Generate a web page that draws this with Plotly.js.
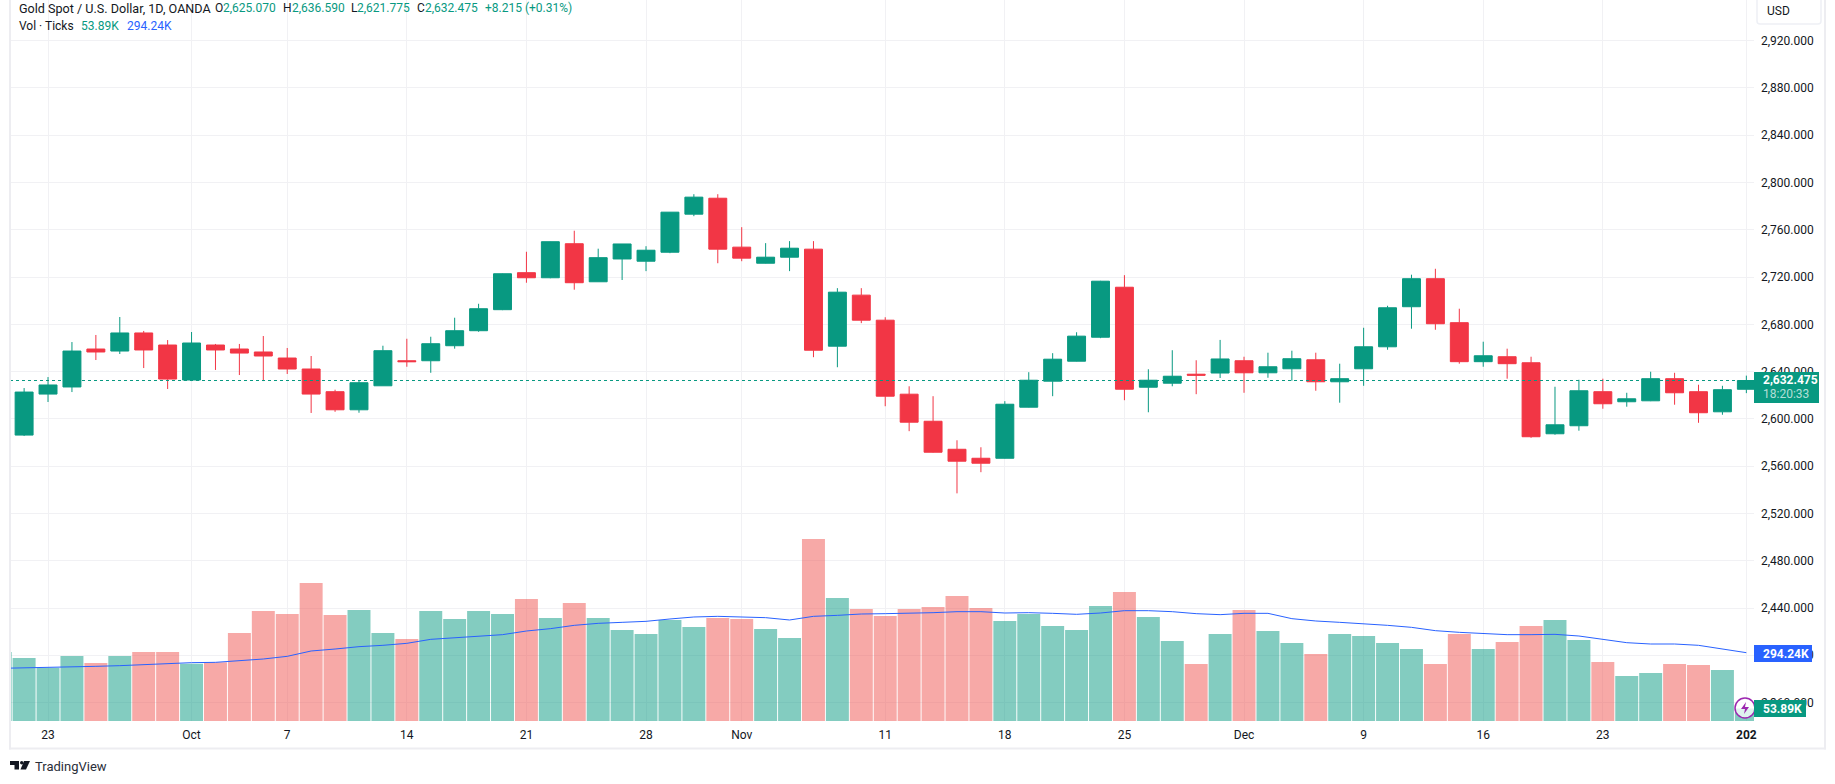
<!DOCTYPE html>
<html>
<head>
<meta charset="utf-8">
<title>Gold Spot / U.S. Dollar</title>
<script src="https://cdn.plot.ly/plotly-3.0.1.min.js"></script>
<style>
    html, body { margin: 0; padding: 0; background: #ffffff; overflow: hidden; }
</style>
</head>
<body>
<div id="chart" style="width:1835px;height:784px;"></div>
<script>
// Trading days shown on the chart (first one only shows its volume bar)
const days = [
    '09-19', '09-20',
    '09-23', '09-24', '09-25', '09-26', '09-27',
    '09-30', '10-01', '10-02', '10-03', '10-04',
    '10-07', '10-08', '10-09', '10-10', '10-11',
    '10-14', '10-15', '10-16', '10-17', '10-18',
    '10-21', '10-22', '10-23', '10-24', '10-25',
    '10-28', '10-29', '10-30', '10-31', '11-01',
    '11-04', '11-05', '11-06', '11-07', '11-08',
    '11-11', '11-12', '11-13', '11-14', '11-15',
    '11-18', '11-19', '11-20', '11-21', '11-22',
    '11-25', '11-26', '11-27', '11-28', '11-29',
    '12-02', '12-03', '12-04', '12-05', '12-06',
    '12-09', '12-10', '12-11', '12-12', '12-13',
    '12-16', '12-17', '12-18', '12-19', '12-20',
    '12-23', '12-24', '12-26', '12-27',
    '12-30', '12-31', '01-01'
];

// Candles, from 09-20 on
const open = [
    2586.3, 2621.0, 2627.0, 2659.1, 2657.4, 2672.7, 2662.5, 2632.9, 2662.5, 2659.1,
    2656.6, 2651.5, 2642.2, 2623.0, 2607.7, 2628.0, 2649.2, 2649.2, 2661.9, 2674.6,
    2692.4, 2723.7, 2719.4, 2748.2, 2716.0, 2735.3, 2733.4, 2741.0, 2773.2, 2786.7,
    2745.3, 2731.7, 2736.8, 2743.6, 2661.5, 2704.7, 2683.5, 2620.9, 2598.0, 2574.3,
    2566.7, 2566.7, 2609.9, 2631.9, 2648.8, 2669.1, 2711.4, 2626.8, 2630.2, 2637.8,
    2638.8, 2649.2, 2639.0, 2642.4, 2650.0, 2631.4, 2642.4, 2661.0, 2694.9, 2718.6,
    2681.4, 2648.4, 2652.6, 2647.5, 2587.4, 2594.2, 2623.0, 2614.5, 2615.3, 2634.0,
    2623.0, 2606.0, 2625.07
];
const high = [
    2626.1, 2635.4, 2665.0, 2671.0, 2686.2, 2674.4, 2666.7, 2673.5, 2663.4, 2663.4,
    2670.1, 2660.0, 2653.2, 2624.7, 2632.3, 2661.9, 2667.8, 2669.5, 2685.6, 2697.4,
    2723.0, 2741.4, 2750.0, 2759.2, 2744.0, 2748.0, 2746.1, 2775.0, 2790.1, 2790.1,
    2762.2, 2748.7, 2750.4, 2750.4, 2710.6, 2710.6, 2686.0, 2627.6, 2619.2, 2581.9,
    2576.0, 2615.0, 2639.5, 2655.6, 2673.3, 2716.8, 2721.6, 2642.0, 2658.1, 2649.6,
    2666.8, 2652.6, 2656.0, 2657.7, 2656.0, 2646.7, 2677.1, 2695.7, 2722.0, 2727.0,
    2693.2, 2665.3, 2659.4, 2652.6, 2627.2, 2633.1, 2634.0, 2622.1, 2639.9, 2639.0,
    2628.9, 2628.0, 2636.59
];
const low = [
    2585.5, 2614.3, 2622.7, 2649.8, 2654.9, 2643.0, 2625.3, 2632.0, 2641.4, 2637.1,
    2632.0, 2638.0, 2605.0, 2606.0, 2605.2, 2628.0, 2644.1, 2639.0, 2659.4, 2673.7,
    2692.0, 2715.2, 2719.0, 2709.3, 2716.0, 2717.5, 2725.0, 2740.2, 2771.5, 2731.7,
    2733.4, 2731.5, 2725.0, 2652.2, 2643.7, 2681.0, 2610.7, 2589.6, 2571.5, 2537.0,
    2554.9, 2566.5, 2609.7, 2619.2, 2648.6, 2668.3, 2615.8, 2605.6, 2627.6, 2620.9,
    2634.6, 2622.1, 2634.8, 2632.3, 2623.8, 2613.7, 2628.0, 2658.5, 2676.3, 2675.4,
    2646.7, 2644.1, 2634.0, 2584.0, 2586.6, 2590.0, 2608.6, 2610.3, 2615.0, 2612.0,
    2596.7, 2603.5, 2621.775
];
const close = [
    2622.7, 2628.7, 2657.4, 2656.6, 2672.7, 2658.3, 2633.7, 2664.2, 2658.3, 2655.7,
    2653.2, 2642.2, 2621.0, 2607.7, 2630.6, 2657.7, 2648.4, 2663.6, 2674.6, 2693.2,
    2722.8, 2719.4, 2749.9, 2715.2, 2736.4, 2748.0, 2742.7, 2774.9, 2787.6, 2743.6,
    2736.0, 2736.8, 2744.4, 2658.1, 2707.2, 2683.5, 2619.2, 2597.2, 2571.8, 2564.2,
    2562.5, 2612.4, 2632.7, 2650.5, 2670.0, 2716.5, 2625.1, 2632.7, 2636.1, 2637.0,
    2650.7, 2639.0, 2644.1, 2650.9, 2631.4, 2634.0, 2661.0, 2694.0, 2718.6, 2680.5,
    2648.4, 2653.4, 2646.7, 2584.9, 2595.0, 2623.8, 2612.8, 2617.0, 2634.0, 2622.1,
    2605.2, 2624.7, 2632.475
];

// Volume (ticks, thousands) and its moving average
const volume = [
    297.1, 271.3, 229.7, 279.9, 249.8, 279.9, 297.1, 297.1, 246.9, 252.6,
    379.0, 473.7, 460.8, 594.3, 456.5, 478.0, 379.0, 353.1, 473.7, 439.3,
    473.7, 460.8, 525.4, 443.6, 508.2, 443.6, 391.9, 374.7, 435.0, 404.8,
    443.6, 439.3, 396.2, 357.4, 783.8, 529.7, 482.3, 452.2, 482.3, 490.9,
    538.3, 486.6, 430.7, 460.8, 409.1, 391.9, 495.2, 555.5, 447.9, 344.5,
    245.5, 374.7, 478.0, 387.6, 335.9, 288.5, 374.7, 366.1, 335.9, 310.1,
    245.5, 374.7, 310.1, 340.2, 409.1, 435.0, 348.8, 254.1, 193.8, 206.7,
    245.5, 241.2, 219.6, 53.89
];
const volumeMA = [
    226.8, 228.2, 229.7, 232.6, 235.4, 238.3, 242.6, 249.8, 251.2, 252.6,
    258.4, 267.0, 278.5, 301.5, 310.0, 320.1, 325.9, 334.5, 351.7, 358.9,
    364.6, 371.8, 387.6, 397.6, 412.0, 420.6, 424.9, 429.2, 439.3, 447.9,
    450.7, 449.3, 445.0, 435.0, 450.7, 455.0, 460.8, 462.2, 463.7, 466.5,
    470.8, 470.8, 465.1, 466.5, 463.7, 459.4, 465.1, 475.1, 475.1, 470.8,
    462.2, 457.9, 463.7, 463.7, 440.7, 430.7, 424.9, 419.2, 412.0, 403.4,
    389.0, 381.8, 376.1, 371.8, 371.8, 373.2, 366.0, 351.7, 337.3, 331.6,
    331.6, 325.9, 311.5, 294.24
];

const tickDays = ['09-23', '10-01', '10-07', '10-14', '10-21', '10-28', '11-01', '11-11', '11-18', '11-25', '12-02', '12-09', '12-16', '12-23', '01-01'];
const tickLabels = ['23', 'Oct', '7', '14', '21', '28', 'Nov', '11', '18', '25', 'Dec', '9', '16', '23', '<b>202</b>'];

const GREEN = '#089981';
const RED = '#F23645';
const BLUE = '#2962FF';
const PURPLE = '#9C27B0';
const INK = '#131722';
const GRID = '#f1f1f4';
const FRAME = '#ededf1';
const FONT = 'Roboto, sans-serif';

// Plot area in page pixels
const PLOT_LEFT = 10;
const PLOT_RIGHT = 1754;
const PLOT_BOTTOM = 721;

const paperX = px => (px - PLOT_LEFT) / (PLOT_RIGHT - PLOT_LEFT);
const paperY = py => 1 - py / PLOT_BOTTOM;

// Text placed by page pixels, left aligned
function label(text, x, y, color, size) {
    return {
        text: text, x: paperX(x), y: paperY(y), xref: 'paper', yref: 'paper',
        xanchor: 'left', yanchor: 'middle', showarrow: false, align: 'left',
        font: { family: FONT, size: size || 12, color: color || INK },
        borderpad: 0
    };
}

function box(x0, y0, x1, y1, fill, line) {
    return {
        type: 'rect', xref: 'paper', yref: 'paper', layer: 'above',
        x0: paperX(x0), x1: paperX(x1), y0: paperY(y0), y1: paperY(y1),
        fillcolor: fill, line: line || { width: 0 }
    };
}

function polygon(points, fill) {
    const d = points.map((p, k) => (k ? 'L' : 'M') + paperX(p[0]) + ',' + paperY(p[1])).join(' ') + ' Z';
    return { type: 'path', xref: 'paper', yref: 'paper', layer: 'above', path: d, fillcolor: fill, line: { width: 0 } };
}

function roundedBox(x0, y0, x1, y1, r, fill, line) {
    const X = paperX, Y = paperY;
    const d = `M${X(x0 + r)},${Y(y0)} L${X(x1 - r)},${Y(y0)} Q${X(x1)},${Y(y0)} ${X(x1)},${Y(y0 + r)} ` +
        `L${X(x1)},${Y(y1 - r)} Q${X(x1)},${Y(y1)} ${X(x1 - r)},${Y(y1)} L${X(x0 + r)},${Y(y1)} ` +
        `Q${X(x0)},${Y(y1)} ${X(x0)},${Y(y1 - r)} L${X(x0)},${Y(y0 + r)} Q${X(x0)},${Y(y0)} ${X(x0 + r)},${Y(y0)} Z`;
    return { type: 'path', xref: 'paper', yref: 'paper', layer: 'above', path: d, fillcolor: fill, line: line };
}

const candleDays = days.slice(1);
const volumeColors = volume.map((v, k) => {
    const rising = k === 0 || close[k - 1] >= open[k - 1];
    return rising ? 'rgba(8,153,129,0.5)' : 'rgba(239,83,80,0.5)';
});

const traces = [
    {
        type: 'candlestick', x: candleDays, open: open, high: high, low: low, close: close,
        xaxis: 'x', yaxis: 'y', whiskerwidth: 0,
        increasing: { line: { color: GREEN, width: 1 }, fillcolor: GREEN },
        decreasing: { line: { color: RED, width: 1 }, fillcolor: RED },
        showlegend: false
    },
    {
        type: 'bar', x: days, y: volume, xaxis: 'x', yaxis: 'y2', width: 0.96,
        marker: { color: volumeColors, line: { width: 0 } }, showlegend: false
    },
    {
        type: 'scatter', mode: 'lines', x: days, y: volumeMA, xaxis: 'x', yaxis: 'y2',
        line: { color: BLUE, width: 1 }, showlegend: false
    }
];

const shapes = [
    // last price line
    {
        type: 'line', xref: 'paper', yref: 'y', x0: 0, x1: 1, y0: close[close.length - 1], y1: close[close.length - 1],
        layer: 'above', line: { color: GREEN, width: 1, dash: 'dot' }
    },
    // frame around pane and axes
    box(9, 0, 11, 749.5, FRAME),
    box(9, 747.5, 1826, 749.5, FRAME),
    box(1824, 0, 1826, 749.5, FRAME),
    // currency button
    roundedBox(1757, -4, 1821, 24, 3, '#ffffff', { color: '#eef0f5', width: 1.5 }),
    // lightning badge on the last bar
    {
        type: 'circle', xref: 'paper', yref: 'paper', layer: 'above',
        x0: paperX(1735), x1: paperX(1755), y0: paperY(698), y1: paperY(718),
        fillcolor: 'rgba(255,255,255,0.75)', line: { color: PURPLE, width: 1.5 }
    },
    polygon([[1746, 702], [1741, 709], [1745, 709], [1744, 714], [1749, 707], [1745, 707]], PURPLE),
    // price axis tags
    box(1754, 372, 1819, 403, GREEN),
    box(1754, 645, 1812, 662, BLUE),
    box(1754, 700, 1806, 717, GREEN),
    // TradingView mark
    polygon([[10, 761], [19, 761], [19, 769.5], [14.5, 769.5], [14.5, 765], [10, 765]], INK),
    polygon([[24, 761], [30, 761], [26, 769.5], [20.5, 769.5]], INK),
    {
        type: 'circle', xref: 'paper', yref: 'paper', layer: 'above',
        x0: paperX(20), x1: paperX(23.4), y0: paperY(761), y1: paperY(764.4),
        fillcolor: INK, line: { width: 0 }
    }
];

const annotations = [
    label('Gold Spot / U.S. Dollar, 1D, OANDA', 18, 8.5, INK, 12.6),
    label('O', 214, 8.5), label('2,625.070', 222, 8.5, GREEN),
    label('H', 282, 8.5), label('2,636.590', 291, 8.5, GREEN),
    label('L', 350, 8.5), label('2,621.775', 356, 8.5, GREEN),
    label('C', 416, 8.5), label('2,632.475', 424, 8.5, GREEN),
    label('+8.215 (+0.31%)', 484, 8.5, GREEN),
    label('Vol · Ticks', 18, 26),
    label('53.89K', 80, 26, GREEN),
    label('294.24K', 126, 26, BLUE),
    label('USD', 1766, 11),
    label('<b>2,632.475</b>', 1762, 380, '#ffffff'),
    label('18:20:33', 1762, 394, 'rgba(255,255,255,0.7)'),
    label('<b>294.24K</b>', 1762, 653.5, '#ffffff'),
    label('<b>53.89K</b>', 1762, 708.5, '#ffffff'),
    label('TradingView', 34, 766.5, '#2a2e39', 13)
];

const layout = {
    width: 1835,
    height: 784,
    autosize: false,
    margin: { l: PLOT_LEFT, r: 1835 - PLOT_RIGHT, t: 0, b: 784 - PLOT_BOTTOM, pad: 0 },
    paper_bgcolor: '#ffffff',
    plot_bgcolor: '#ffffff',
    font: { family: FONT, size: 12, color: INK },
    showlegend: false,
    hovermode: false,
    boxgap: 0.25,
    boxgroupgap: 0,
    xaxis: {
        type: 'category',
        categoryorder: 'array',
        categoryarray: days,
        range: [0.41, 73.32],
        tickmode: 'array',
        tickvals: tickDays,
        ticktext: tickLabels,
        tickangle: 0,
        ticks: '',
        ticklabelstandoff: 5,
        showgrid: true,
        gridcolor: GRID,
        gridwidth: 1,
        showline: false,
        zeroline: false,
        rangeslider: { visible: false },
        tickfont: { family: FONT, size: 12, color: INK }
    },
    yaxis: {
        side: 'right',
        range: [2344.4, 2954.4],
        tick0: 2360,
        dtick: 40,
        tickformat: ',.3f',
        ticks: '',
        ticklabelstandoff: 6,
        showgrid: true,
        gridcolor: GRID,
        gridwidth: 1,
        showline: false,
        zeroline: false,
        tickfont: { family: FONT, size: 12, color: INK }
    },
    yaxis2: {
        overlaying: 'y',
        side: 'right',
        range: [0, 3105],
        visible: false,
        showgrid: false,
        zeroline: false
    },
    shapes: shapes,
    annotations: annotations
};

Plotly.newPlot('chart', traces, layout, { displayModeBar: false, staticPlot: true });
</script>
</body>
</html>
